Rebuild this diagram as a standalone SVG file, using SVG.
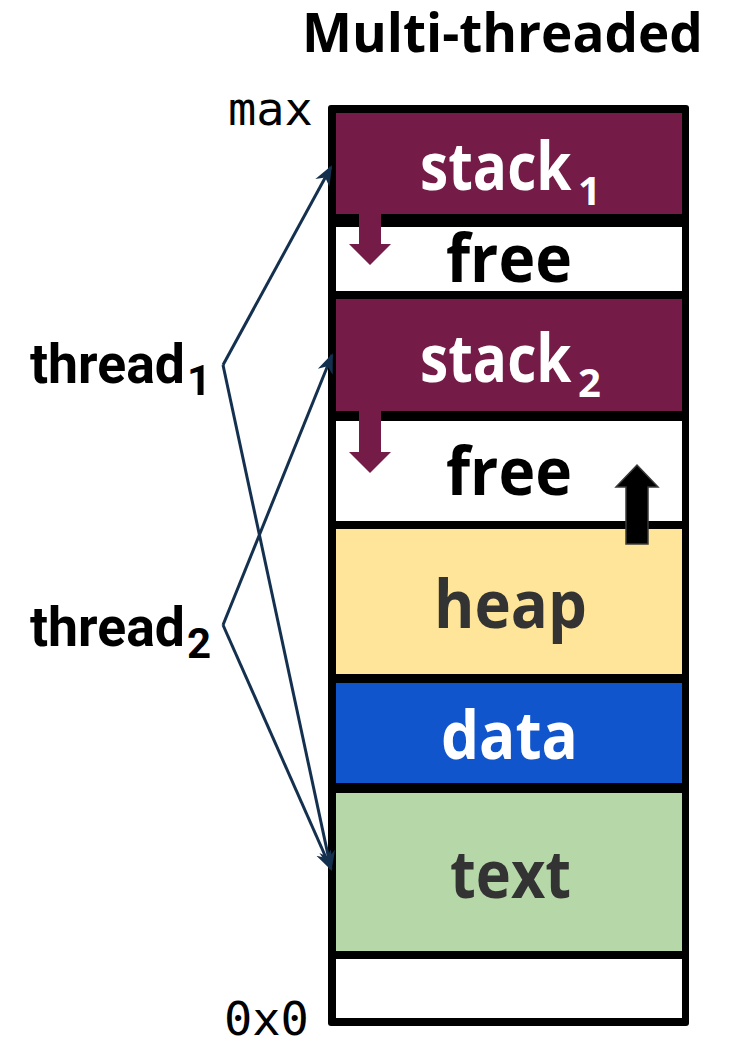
<svg xmlns="http://www.w3.org/2000/svg" width="730" height="1042" viewBox="0 0 730 1042">
  <defs>
    <style>
      .title { font-family: "Open Sans", "Liberation Sans", sans-serif; font-weight: 700; font-size: 53px; fill: #000; }
      .seg { font-family: "Open Sans", "Liberation Sans", sans-serif; font-weight: 700; font-size: 66px; }
      .sub { font-size: 40px; }
      .thr { font-family: Roboto, "Liberation Sans", sans-serif; font-weight: 700; font-size: 55px; fill: #000; }
      .thrsub { font-size: 42px; }
      .addr { font-family: "DejaVu Sans Mono", "Liberation Mono", monospace; font-size: 47px; fill: #000; }
      .stack { fill: #741b47; }
      .white { fill: #ffffff; }
      .dark { fill: #333333; }
      .link { fill: none; stroke: #14304f; stroke-width: 3; stroke-linejoin: miter; }
    </style>
    <marker id="tip" viewBox="0 0 20 20" refX="18" refY="10" markerWidth="20" markerHeight="20" markerUnits="userSpaceOnUse" orient="auto">
      <path d="M0,2 L20,10 L0,18 L6,10 Z" fill="#14304f"/>
    </marker>
  </defs>

  <rect width="730" height="1042" fill="#ffffff"/>

  <!-- heading -->
  <text class="title" x="302" y="52">Multi-threaded</text>

  <!-- address labels -->
  <text class="addr" x="228" y="125">max</text>
  <text class="addr" x="224" y="1035">0x0</text>

  <!-- outer frame of the address space -->
  <rect id="frame" x="328" y="105" width="361" height="921" rx="3" fill="#000000"/>

  <g id="stack1">
    <rect class="stack" x="336" y="113" width="346" height="101"/>
    <text class="seg white" transform="translate(420,190) scale(0.86,1)">stack</text>
    <text class="seg sub white" x="578" y="205">1</text>
  </g>

  <g id="free1">
    <rect class="white" x="336" y="227" width="346" height="64"/>
    <text class="seg" x="446" y="282" textLength="126" lengthAdjust="spacingAndGlyphs" fill="#000">free</text>
  </g>

  <g id="stack2">
    <rect class="stack" x="336" y="299" width="346" height="112"/>
    <text class="seg white" transform="translate(420,382) scale(0.86,1)">stack</text>
    <text class="seg sub white" x="578" y="397">2</text>
  </g>

  <g id="free2">
    <rect class="white" x="336" y="421" width="346" height="100"/>
    <text class="seg" x="446" y="495" textLength="126" lengthAdjust="spacingAndGlyphs" fill="#000">free</text>
  </g>

  <g id="heap">
    <rect x="336" y="529" width="346" height="145" fill="#ffe599"/>
    <text class="seg dark" x="434" y="628" textLength="153" lengthAdjust="spacingAndGlyphs">heap</text>
  </g>

  <g id="data">
    <rect x="336" y="683" width="346" height="100" fill="#1155cc"/>
    <text class="seg white" x="441" y="759" textLength="137" lengthAdjust="spacingAndGlyphs">data</text>
  </g>

  <g id="text">
    <rect x="336" y="793" width="346" height="158" fill="#b6d7a8"/>
    <text class="seg dark" x="450" y="898" textLength="121" lengthAdjust="spacingAndGlyphs">text</text>
  </g>

  <g id="reserved">
    <rect class="white" x="336" y="959" width="346" height="59"/>
  </g>

  <!-- growth directions: stacks grow down, heap grows up -->
  <g id="growth">
    <path class="stack" d="M359,214 H381 V244 H391 L370,265 L349,244 H359 Z"/>
    <path class="stack" d="M359,411 H381 V452 H391 L370,473 L349,452 H359 Z"/>
    <path d="M626,544 V487 H616 L637,465 L658,487 H648 V544 Z" fill="#000000" stroke="#3a3a3a" stroke-width="1.5"/>
  </g>

  <g id="thread1">
    <text class="thr" x="30" y="383" textLength="155" lengthAdjust="spacingAndGlyphs">thread</text>
    <text class="thr thrsub" x="187" y="395">1</text>
  </g>

  <g id="thread2">
    <text class="thr" x="30" y="646" textLength="155" lengthAdjust="spacingAndGlyphs">thread</text>
    <text class="thr thrsub" x="187" y="658">2</text>
  </g>

  <!-- each thread points at its own stack and the shared text segment -->
  <g id="connectors">
    <path class="link" d="M223,365 L331,167" marker-end="url(#tip)"/>
    <path class="link" d="M223,365 L331,869" marker-end="url(#tip)"/>
    <path class="link" d="M223,625 L332,355" marker-end="url(#tip)"/>
    <path class="link" d="M223,625 L331,869" marker-end="url(#tip)"/>
  </g>
</svg>
